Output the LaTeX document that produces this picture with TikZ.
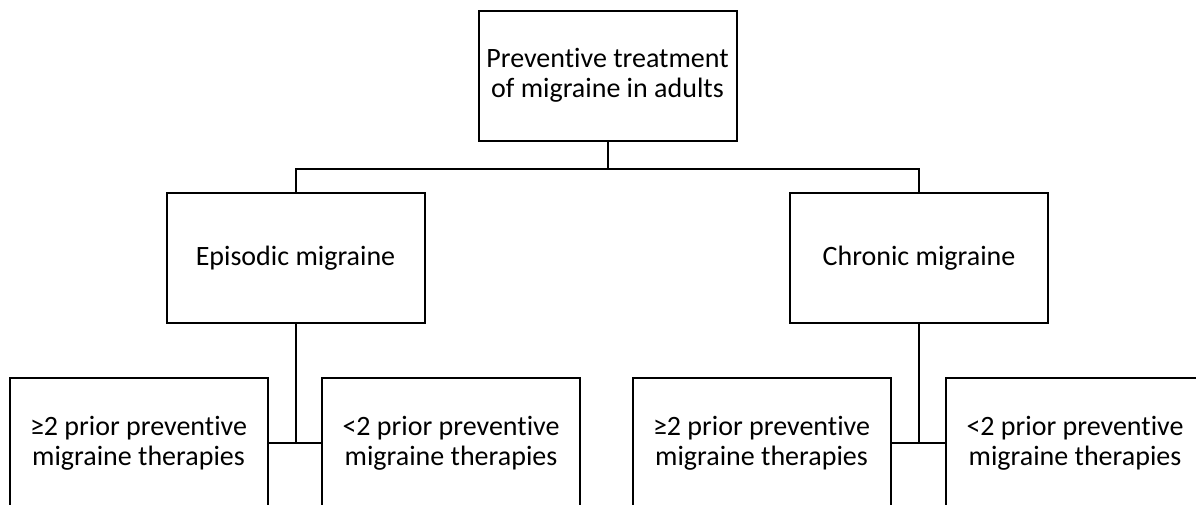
\documentclass[tikz,border=0pt]{standalone}
\usepackage{fontspec}
\setmainfont[Ligatures=NoCommon]{Carlito}
\usetikzlibrary{positioning}
\tikzset{
  box/.style={draw, line width=2pt, align=center, minimum width=258pt, minimum height=130pt,
    inner sep=0pt, font=\fontsize{28}{30}\selectfont},
  link/.style={line width=2pt}
}
\begin{document}
\begin{tikzpicture}[x=1pt, y=-1pt]
      \useasboundingbox (0,0) rectangle (1196,504);
      %
      \node[box] (top) at (607.5,75.5) {Preventive treatment\\of migraine in adults};
      %
      \node[box] (epi) at (295.5,258) {Episodic migraine};      % second level
      \node[box] (chr) at (919,258)   {Chronic migraine};
      %
      \node[box] (epimore) at (138.5,443) {≥2 prior preventive\\migraine therapies}; % third level
      \node[box] (epiless) at (451,443)   {<2 prior preventive\\migraine therapies};
      \node[box] (chrmore) at (761.5,443) {≥2 prior preventive\\migraine therapies};
      \node[box] (chrless) at (1075,443)  {<2 prior preventive\\migraine therapies};
      %
      \draw[link] (top.south) -- ++(0,27) -| (epi.north);    % links
      \draw[link] (top.south) -- ++(0,27) -| (chr.north);
      %
      \draw[link] (epi.south) -- (epi.south |- epimore.east);
      \draw[link] (epimore.east) -- (epiless.west);
      \draw[link] (chr.south) -- (chr.south |- chrmore.east);
      \draw[link] (chrmore.east) -- (chrless.west);
      %
    \end{tikzpicture}
\end{document}
